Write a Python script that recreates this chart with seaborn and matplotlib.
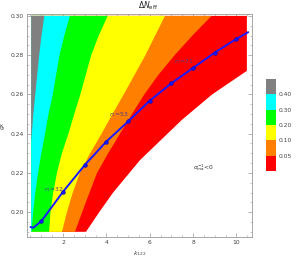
import numpy as np
import pandas as pd
import matplotlib
matplotlib.use("Agg")
import matplotlib.pyplot as plt
import matplotlib.colors as mcolors
import matplotlib.colorbar as mcolorbar
from matplotlib.ticker import MultipleLocator
import seaborn as sns

# band colours and legend levels (Delta N_eff)
band_colors = ['#FF0000', '#FF8000', '#FFFF00', '#00FF00', '#00FFFF', '#808080']
level_bounds = [0.0, 0.05, 0.10, 0.20, 0.30, 0.40, 0.50]
level_ticks = [0.05, 0.10, 0.20, 0.30, 0.40]

# left edge of the scanned region
x_left = 0.53

# contour boundaries (x at given g values), bottom to top
red_x = [3.06, 3.67, 4.31, 5.55, 7.48, 8.88, 10.48, 10.48]       # sigma^-1 = 0
red_y = [0.19, 0.20, 0.21, 0.2265, 0.247, 0.26, 0.272, 0.30]
orange_x = [2.55, 3.05, 3.57, 4.08, 4.63, 5.18, 5.75, 6.40, 7.15, 7.97, 8.85]   # 0.05
orange_y = [0.19, 0.205, 0.22, 0.23, 0.24, 0.25, 0.26, 0.27, 0.28, 0.29, 0.30]
yellow_x = [1.95, 2.18, 2.45, 2.78, 3.25, 3.78, 4.28, 4.80, 5.30, 5.80, 6.25, 6.70]  # 0.10
yellow_y = [0.19, 0.20, 0.21, 0.22, 0.23, 0.24, 0.25, 0.26, 0.27, 0.28, 0.29, 0.30]
green_x = [1.36, 1.42, 1.55, 1.72, 1.95, 2.25, 2.52, 2.80, 3.05, 3.30, 3.65, 4.06]  # 0.20
green_y = [0.19, 0.20, 0.21, 0.22, 0.23, 0.24, 0.25, 0.26, 0.27, 0.28, 0.29, 0.30]
cyan_x = [0.55, 0.62, 0.72, 0.85, 1.00, 1.17, 1.33, 1.53, 1.68, 1.84, 2.06, 2.32]  # 0.30
cyan_y = [0.19, 0.20, 0.21, 0.22, 0.23, 0.24, 0.25, 0.26, 0.27, 0.28, 0.29, 0.30]
gray_x = [0.53, 0.56, 0.63, 0.72, 0.81, 0.90, 1.01, 1.14]  # 0.40
gray_y = [0.236, 0.24, 0.25, 0.26, 0.27, 0.28, 0.29, 0.30]

# r_1 = const curve
curve_k = [0.50, 0.62, 1, 2, 3, 4, 5, 6, 7, 8, 9, 10, 10.54]
curve_g = [0.1925, 0.1920, 0.1954, 0.2104, 0.2240, 0.2360, 0.2462, 0.2568,
           0.2657, 0.2735, 0.2813, 0.2883, 0.2917]
marker_k = [1, 2, 3, 4, 5, 6, 7, 8, 9, 10]

r_labels = ['$r_1$=32', '$r_1$=53', '$r_1$=71']
r_label_k = [1.59, 4.58, 7.58]
r_label_g = [0.2117, 0.2495, 0.2765]

sns.set_theme(style="ticks")
plt.rcParams['font.family'] = ['DejaVu Sans']

fig = plt.figure(figsize=(2.97, 2.58), dpi=100)
ax = fig.add_axes([0.091, 0.081, 0.757, 0.865])

boundaries = [(red_x, red_y), (orange_x, orange_y), (yellow_x, yellow_y),
              (green_x, green_y), (cyan_x, cyan_y), (gray_x, gray_y)]
for (bx, by), col in zip(boundaries, band_colors):
    px = [x_left] + list(bx) + [x_left]
    py = [by[0]] + list(by) + [by[-1]]
    ax.fill(px, py, color=col, lw=0)

df = pd.DataFrame({'k': curve_k, 'g': curve_g})
sns.lineplot(data=df, x='k', y='g', ax=ax, color='#1a1aff', lw=1.4, sort=False)
mk = df[df['k'].isin(marker_k)]
sns.scatterplot(data=mk, x='k', y='g', ax=ax, color='#1a1aff', s=7,
                edgecolor='#0000aa', linewidth=0.4, zorder=5)

for t, xk, yg in zip(r_labels, r_label_k, r_label_g):
    ax.text(xk, yg, t, fontsize=4.3, color='#4b3a8c', ha='center', va='center')
ax.text(8.5, 0.2225, r'$\sigma_{ma}^{-1}$<0', fontsize=4.3, color='#333333',
        ha='center', va='center')

ax.set_xlim(0.34, 10.71)
ax.set_ylim(0.1873, 0.301)
ax.xaxis.set_major_locator(MultipleLocator(2))
ax.xaxis.set_minor_locator(MultipleLocator(0.5))
ax.yaxis.set_major_locator(MultipleLocator(0.02))
ax.yaxis.set_minor_locator(MultipleLocator(0.005))
ax.yaxis.set_major_formatter(matplotlib.ticker.FormatStrFormatter('%.2f'))
ax.tick_params(which='both', direction='in', top=True, right=True,
               labelsize=4.3, labelcolor='#444444', color='#999999', pad=2)
ax.tick_params(which='major', length=3.0, width=0.5)
ax.tick_params(which='minor', length=1.6, width=0.4)
for s in ax.spines.values():
    s.set_color('#999999')
    s.set_linewidth(0.6)
ax.set_xlabel('$k_{122}$', fontsize=4.5, color='#444444', labelpad=3)
ax.set_ylabel('$g_X$', fontsize=4.5, color='#444444', labelpad=3)
fig.text(0.498, 0.978, r'$\Delta N_{\rm eff}$', fontsize=5.5, ha='center',
         va='center', color='#222222')

cax = fig.add_axes([0.896, 0.337, 0.034, 0.357])
cmap = mcolors.ListedColormap(band_colors)
norm = mcolors.BoundaryNorm(level_bounds, cmap.N)
cb = mcolorbar.ColorbarBase(cax, cmap=cmap, norm=norm, spacing='uniform',
                            ticks=level_ticks)
cb.outline.set_visible(False)
cb.ax.minorticks_off()
cb.ax.set_yticklabels(['%.2f' % v for v in level_ticks])
cb.ax.tick_params(which='both', length=0, labelsize=4.3, labelcolor='#444444', pad=2)
for s in cb.ax.spines.values():
    s.set_visible(False)

fig.savefig('out.png', dpi=100)
